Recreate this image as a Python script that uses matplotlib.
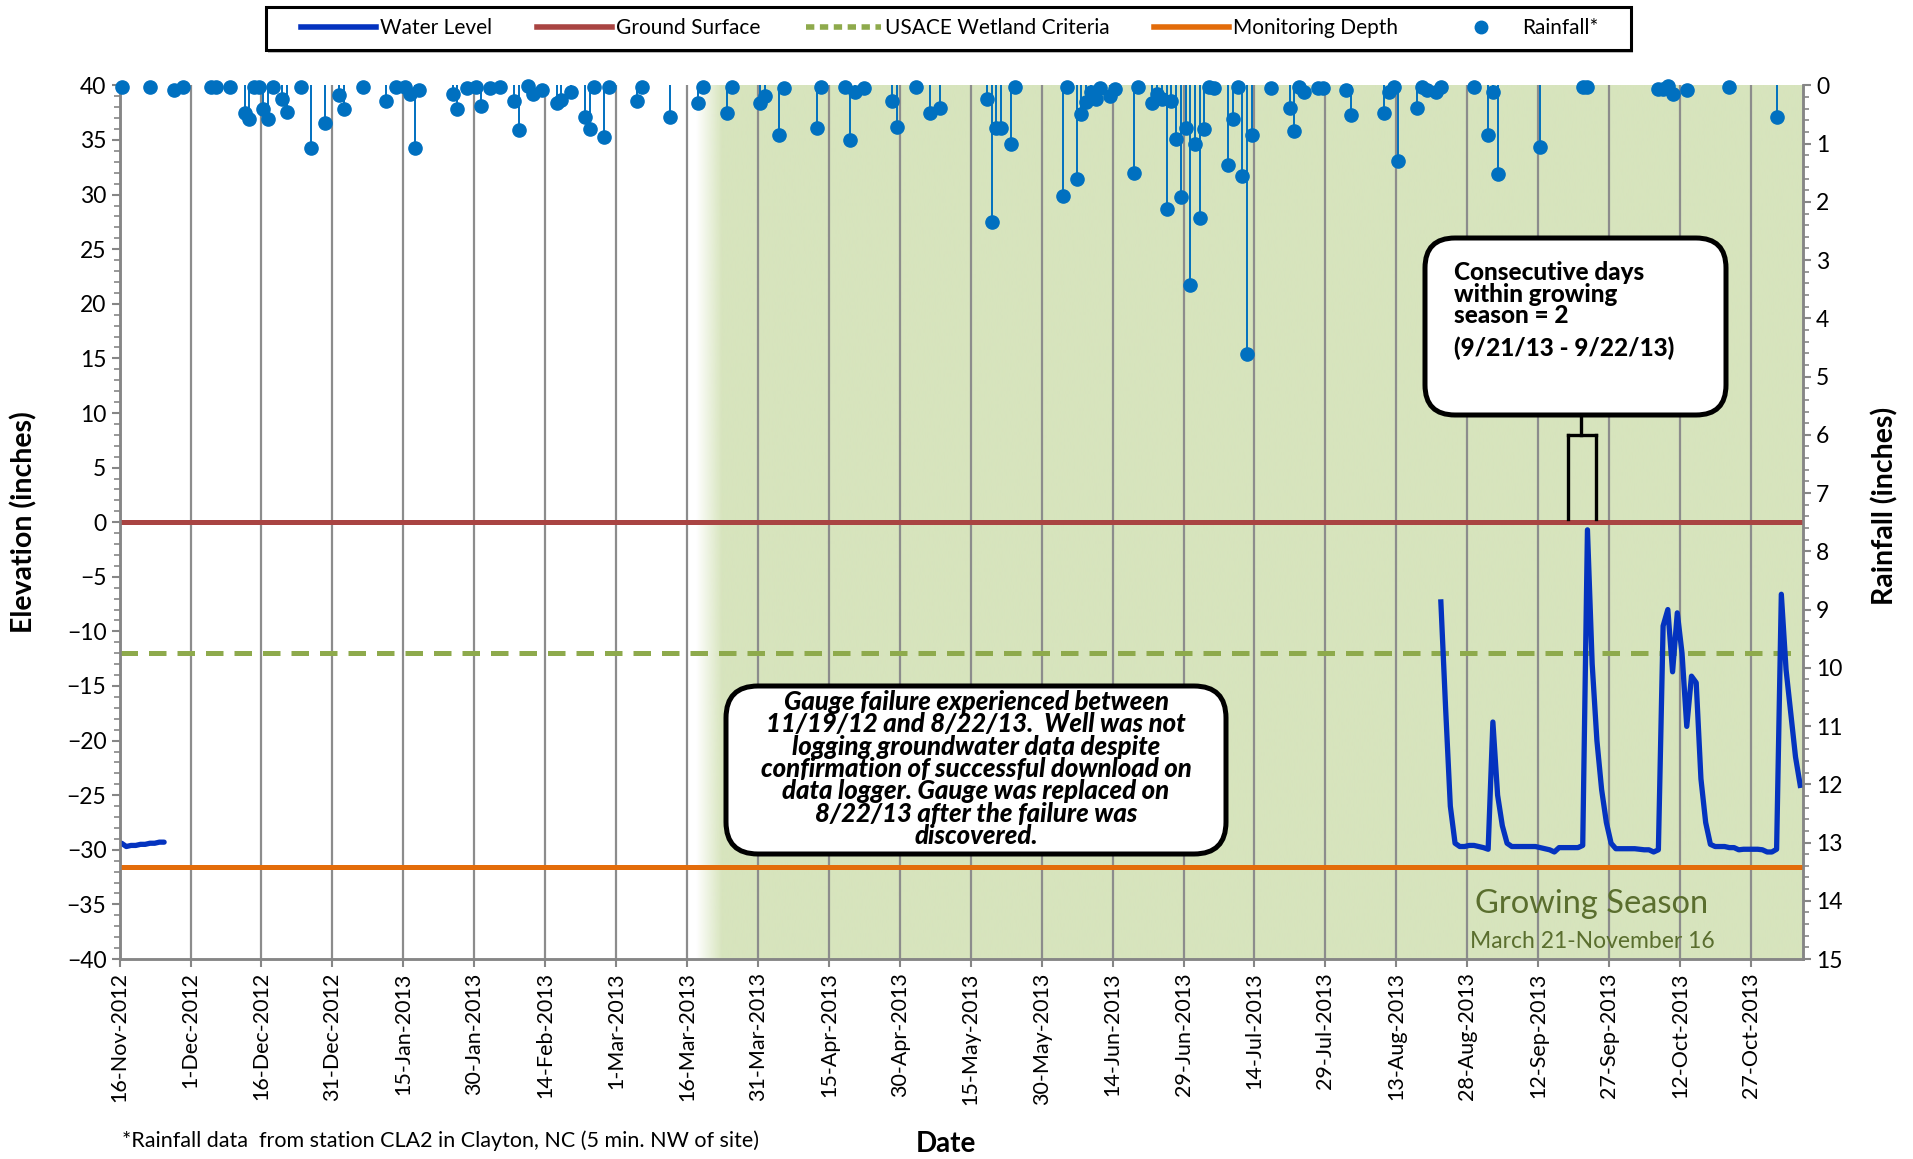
import numpy as np
import pandas as pd
import matplotlib
matplotlib.use("Agg")
import matplotlib.pyplot as plt
import matplotlib.dates as mdates
import matplotlib.ticker as mticker
import matplotlib.transforms as mtransforms
from matplotlib.patches import FancyBboxPatch, Rectangle
from matplotlib.lines import Line2D

# ---------------- data ----------------
START = pd.Timestamp("2012-11-16")
END_DAY = 356                       # x-axis end (days after start)
GROW_START_DAY = 125                # 21-Mar-2013

# water level (inches), day offsets from 16-Nov-2012
wl1_day = list(range(0, 10))
wl1_val = [-29.4, -29.7, -29.6, -29.6, -29.5, -29.5, -29.4, -29.4, -29.3, -29.3]

wl2_day = list(range(279, 356))
wl2_val = [
    -7.3, -17.0, -26.0, -29.4, -29.7, -29.7, -29.6, -29.6, -29.7, -29.8,   # 279-288
    -29.95, -18.3, -25.0, -27.8, -29.4, -29.7, -29.7, -29.7, -29.7, -29.7,  # 289-298
    -29.7, -29.8, -29.9, -30.0, -30.2, -29.8, -29.8, -29.8, -29.8, -29.8,   # 299-308
    -29.6, -0.7, -13.0, -20.0, -24.5, -27.5, -29.4, -29.9, -29.9, -29.9,    # 309-318
    -29.9, -29.9, -29.95, -30.0, -30.0, -30.2, -30.0, -9.5, -8.0, -13.7,    # 319-328
    -8.3, -12.0, -18.7, -14.1, -14.7, -23.5, -27.5, -29.5, -29.7, -29.7,    # 329-338
    -29.7, -29.8, -29.8, -30.0, -29.95, -29.95, -29.95, -29.95, -30.0, -30.2,  # 339-348
    -30.2, -29.95, -6.6, -13.5, -17.5, -21.5, -24.1,                         # 349-355
]

ground_surface = 0.0
usace_criteria = -12.0
monitoring_depth = -31.6

# rainfall (inches), day offsets from 16-Nov-2012
rain_day = [0, 6, 11, 13, 19, 20, 23, 26, 27, 28, 29, 30, 31, 32, 34, 35, 38, 40, 43, 46,
            47, 51, 56, 58, 60, 61, 62, 63, 70, 71, 73, 75, 76, 78, 80, 83, 84, 86, 87, 89,
            92, 93, 95, 98, 99, 100, 102, 103, 109, 110, 116, 122, 123, 128, 129, 135, 136,
            139, 140, 147, 148, 153, 154, 155, 157, 163, 164, 168, 171, 173, 183, 184, 185,
            186, 188, 189, 199, 200, 202, 203, 204, 205, 206, 207, 209, 210, 214, 215, 218,
            219, 220, 221, 222, 223, 224, 225, 226, 227, 228, 229, 230, 231, 234, 235, 236,
            237, 238, 239, 243, 247, 248, 249, 250, 253, 254, 259, 260, 267, 268, 269, 270,
            274, 275, 276, 278, 279, 286, 289, 290, 291, 300, 309, 310, 325, 326, 327, 328,
            331, 340, 350]
rain_in = [0.02, 0.02, 0.08, 0.02, 0.02, 0.02, 0.02, 0.47, 0.57, 0.02, 0.03, 0.41, 0.57, 0.02,
           0.23, 0.45, 0.02, 1.08, 0.65, 0.17, 0.41, 0.02, 0.27, 0.02, 0.02, 0.14, 1.08, 0.08,
           0.15, 0.41, 0.05, 0.02, 0.35, 0.04, 0.02, 0.27, 0.77, 0.01, 0.14, 0.08, 0.31, 0.25,
           0.12, 0.54, 0.75, 0.03, 0.88, 0.02, 0.27, 0.02, 0.55, 0.31, 0.02, 0.48, 0.02, 0.31,
           0.19, 0.86, 0.04, 0.73, 0.02, 0.02, 0.93, 0.12, 0.04, 0.27, 0.72, 0.02, 0.47, 0.39,
           0.24, 2.35, 0.73, 0.73, 1.00, 0.02, 1.90, 0.02, 1.61, 0.49, 0.29, 0.12, 0.23, 0.04,
           0.18, 0.06, 1.50, 0.02, 0.31, 0.14, 0.23, 2.13, 0.26, 0.92, 1.91, 0.73, 3.43, 1.01,
           2.27, 0.75, 0.02, 0.04, 1.37, 0.58, 0.02, 1.56, 4.61, 0.86, 0.04, 0.39, 0.78, 0.02,
           0.11, 0.05, 0.05, 0.08, 0.51, 0.47, 0.11, 0.02, 1.30, 0.38, 0.02, 0.08, 0.11, 0.02,
           0.02, 0.85, 0.11, 1.52, 1.05, 0.02, 0.02, 0.06, 0.06, 0.01, 0.15, 0.08, 0.02, 0.54]

x_tick_step_days = 15
y_left_ticks = list(range(-40, 41, 5))
y_right_ticks = list(range(0, 16))

# ---------------- style ----------------
FONT = ["Lato", "DejaVu Sans"]
plt.rcParams["font.family"] = FONT
C_WL = "#0433BF"
C_GS = "#A94442"
C_US = "#8EAA4C"
C_MD = "#E36C0A"
C_RAIN = "#0070C0"
C_SHADE = np.array([0xD7, 0xE4, 0xBD]) / 255.0
C_AXIS = "#868686"
POINT_SHIFT = pd.Timedelta(hours=10)   # points sit inside the day slot (Excel date axis)

W, H = 1913, 1159
fig = plt.figure(figsize=(W / 100, H / 100), dpi=100)
ax = fig.add_axes([119.6 / W, 1 - 959 / H, (1803 - 119.6) / W, (959 - 85.4) / H])
ax2 = ax.twinx()

def to_dates(days):
    return [START + pd.Timedelta(days=int(d)) + POINT_SHIFT for d in days]

x0 = mdates.date2num(START)
x1 = mdates.date2num(START + pd.Timedelta(days=END_DAY))

# growing season shading with soft left edge
gs = mdates.date2num(START + pd.Timedelta(days=GROW_START_DAY))
xs = np.linspace(gs - 3.0, x1, 2000)
alpha = np.clip((xs - (gs - 3.0)) / 5.5, 0, 1)
img = np.zeros((1, xs.size, 4))
img[0, :, :3] = C_SHADE
img[0, :, 3] = alpha
ax.imshow(img, extent=[xs[0], xs[-1], -40, 40], aspect="auto", zorder=0,
          interpolation="bilinear")

# reference lines
ax.axhline(ground_surface, color=C_GS, lw=3.6, zorder=3)
ax.axhline(monitoring_depth, color=C_MD, lw=3.6, zorder=3)
ax.plot([x0, x1], [usace_criteria] * 2, color=C_US, lw=3.6, dashes=(3.5, 2.2),
        zorder=3, solid_capstyle="butt")

# water level
ax.plot(to_dates(wl1_day), wl1_val, color=C_WL, lw=3.8, zorder=4, solid_capstyle="round")
ax.plot(to_dates(wl2_day), wl2_val, color=C_WL, lw=3.8, zorder=4, solid_joinstyle="round")

# rainfall
rd = to_dates(rain_day)
ax2.vlines(rd, 0, rain_in, color=C_RAIN, lw=1.4, zorder=3)
ax2.plot(rd, rain_in, "o", color=C_RAIN, ms=9.5, zorder=4, clip_on=False)

# axes settings
ax.set_xlim(x0, x1)
ax.set_ylim(-40, 40)
ax2.set_ylim(15, 0)
ticks = [START + pd.Timedelta(days=d) for d in range(0, END_DAY, x_tick_step_days)]
ax.set_xticks(ticks)
ax.set_xticklabels([f"{t.day}-{t:%b}-{t.year}" for t in ticks], rotation=90,
                   fontsize=15.5)
ax.set_yticks(y_left_ticks)
ax.yaxis.set_minor_locator(mticker.MultipleLocator(1))
ax2.set_yticks(y_right_ticks)
ax2.yaxis.set_minor_locator(mticker.MultipleLocator(0.2))
ax.tick_params(axis="y", labelsize=16.5, colors="black", direction="out")
ax2.tick_params(axis="y", labelsize=16.5, direction="out")
for a in (ax, ax2):
    a.tick_params(which="major", length=6, width=1.5, color=C_AXIS)
    a.tick_params(which="minor", length=4, width=1.2, color=C_AXIS)
    for s in a.spines.values():
        s.set_color(C_AXIS)
        s.set_linewidth(1.8)
    a.spines["top"].set_visible(False)
ax.grid(axis="x", color="#8C8C8C", lw=1.6, zorder=1)
ax.set_axisbelow(True)

# axis labels
fig.text(24 / W, 1 - 522 / H, "Elevation (inches)", rotation=90, ha="center", va="center",
         fontsize=20.5, fontweight="bold")
fig.text(1885 / W, 1 - 506 / H, "Rainfall (inches)", rotation=90, ha="center", va="center",
         fontsize=20.5, fontweight="bold")
fig.text(946 / W, 1 - 1144 / H, "Date", ha="center", va="center", fontsize=20,
         fontweight="bold")
fig.text(122 / W, 1 - 1141 / H,
         "*Rainfall data  from station CLA2 in Clayton, NC (5 min. NW of site)",
         ha="left", va="center", fontsize=15.5)

# legend: fixed frame + frameless legend centred in it
pix = mtransforms.IdentityTransform()
fig.patches.append(Rectangle((268, H - 53), 1365, 43, transform=pix, facecolor="#BFBFBF",
                             edgecolor="none", zorder=5))
fig.patches.append(Rectangle((266, H - 50), 1365, 43, transform=pix, facecolor="white",
                             edgecolor="black", lw=2.2, zorder=6))
handles = [
    Line2D([], [], color=C_WL, lw=4),
    Line2D([], [], color=C_GS, lw=4),
    Line2D([], [], color=C_US, lw=4, dashes=(1.5, 1)),
    Line2D([], [], color=C_MD, lw=4),
    Line2D([], [], color=C_RAIN, marker="o", ls="none", ms=9),
]
labels = ["Water Level", "Ground Surface", "USACE Wetland Criteria", "Monitoring Depth",
          "Rainfall*"]
leg = fig.legend(handles, labels, ncol=5, loc="center",
                 bbox_to_anchor=(950 / W, 1 - 28.5 / H),
                 fontsize=15, handlelength=3.6, frameon=False, columnspacing=2.15,
                 handletextpad=0.2, borderpad=0.2)
leg.set_zorder(7)

# annotation boxes (pixel coordinates)
def rbox(xa, xb, ya, yb, r=30):
    p = FancyBboxPatch((xa, H - yb), xb - xa, yb - ya,
                       boxstyle=f"round,pad=0,rounding_size={r}",
                       transform=pix, facecolor="white", edgecolor="black", lw=3.6,
                       zorder=10)
    fig.patches.append(p)

rbox(726, 1226, 686, 854, r=32)
fig.text(976 / W, 1 - 769 / H,
         "Gauge failure experienced between\n11/19/12 and 8/22/13.  Well was not\n"
         "logging groundwater data despite\nconfirmation of successful download on\n"
         "data logger. Gauge was replaced on\n8/22/13 after the failure was\ndiscovered.",
         ha="center", va="center", multialignment="center", fontsize=18.5,
         fontweight="black", fontstyle="italic", linespacing=0.92, zorder=11)

rbox(1425, 1726, 238, 415, r=30)
fig.text(1454 / W, 1 - 294 / H, "Consecutive days\nwithin growing\nseason = 2",
         ha="left", va="center", fontsize=17.5, fontweight="black", linespacing=0.92,
         zorder=11)
fig.text(1454 / W, 1 - 348 / H, "(9/21/13 - 9/22/13)", ha="left", va="center",
         fontsize=17.5, fontweight="black", zorder=11)

# callout bracket
for xs_, ys_ in [([1581, 1581], [415, 435]), ([1568, 1596], [435, 435]),
                 ([1568, 1568], [435, 519]), ([1596, 1596], [435, 519])]:
    fig.add_artist(Line2D([x / W for x in xs_], [1 - y / H for y in ys_], color="black",
                          lw=2.4, transform=fig.transFigure, zorder=10))

# growing season label
fig.text(1592 / W, 1 - 904 / H, "Growing Season", ha="center", va="center", fontsize=23.5,
         color="#5A6E2E")
fig.text(1592 / W, 1 - 942 / H, "March 21-November 16", ha="center", va="center",
         fontsize=16.5, color="#5A6E2E")

fig.savefig("out.png", dpi=100)
